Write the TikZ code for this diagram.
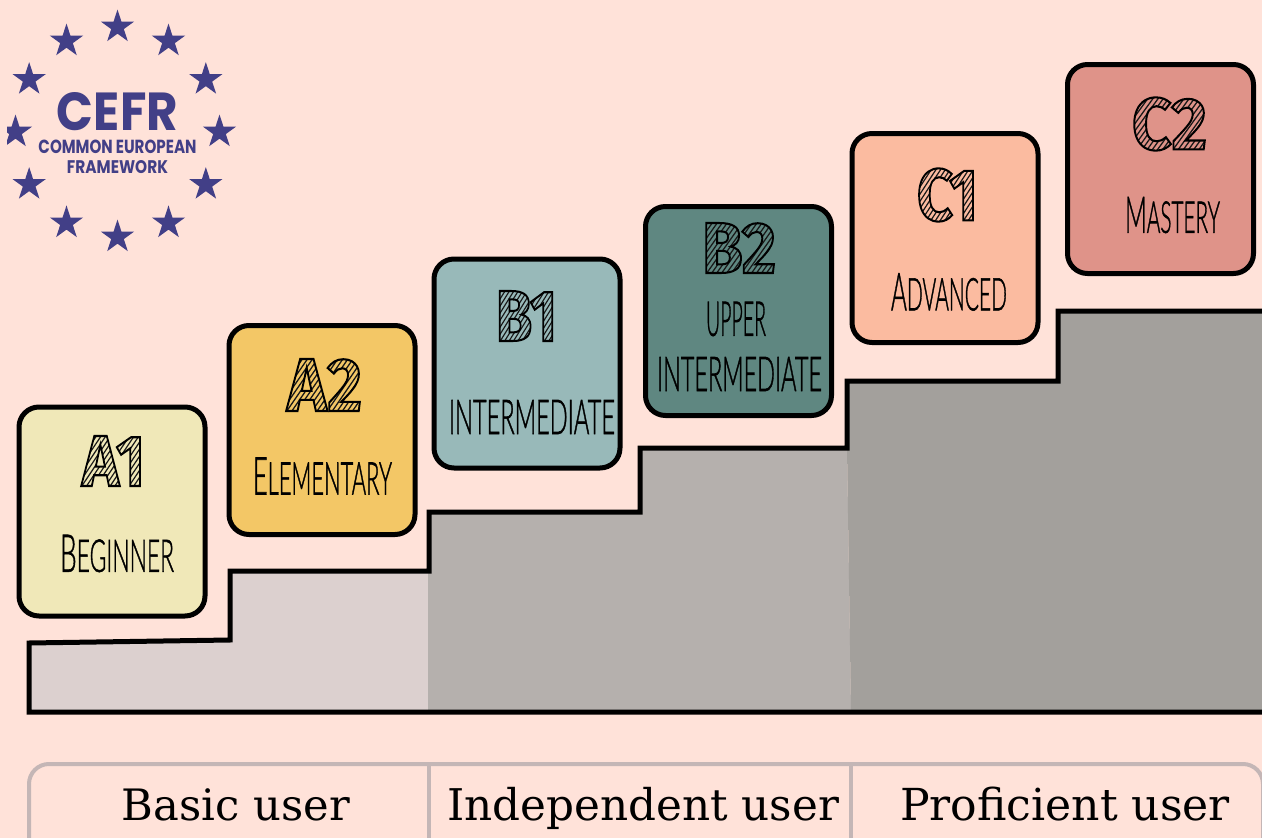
\documentclass[tikz,border=0pt]{standalone}
\usepackage{fontspec}
\usepackage{graphicx}
\setmainfont{Liberation Sans}
\newfontfamily\thinf{Lato}[UprightFont=* Light]
\newfontfamily\popf{Poppins}[BoldFont=* Bold]
\newfontfamily\slabf{DejaVu Serif}
\newfontfamily\handf{Fira Sans}[BoldFont=* Bold]
\usetikzlibrary{shapes.geometric}
\definecolor{bgc}{HTML}{FFE2D9}
\definecolor{starc}{HTML}{423F87}
\definecolor{stepa}{HTML}{DCD0CF}
\definecolor{stepb}{HTML}{B5B0AD}
\definecolor{stepc}{HTML}{A3A09C}
\definecolor{barc}{HTML}{C4B6B6}
\definecolor{cAa}{HTML}{F0E8B8}
\definecolor{cAb}{HTML}{F3C766}
\definecolor{cBa}{HTML}{98B9B9}
\definecolor{cBb}{HTML}{5F8781}
\definecolor{cCa}{HTML}{FBBBA0}
\definecolor{cCb}{HTML}{DF9389}
\newcommand{\sizedtxt}[3]{\resizebox{#1pt}{#2pt}{#3}}
\newcommand{\capl}[2]{\special{pdf:bcontent}\special{pdf:code 2 Tr 0.55 w 0 0 0 RG}\fontsize{44}{44}\thinf #1\fontsize{38}{38}\selectfont #2\special{pdf:econtent}}
% hatch strokes for the level letters, in the letter's own units
\gdef\hatchcode{}
\foreach \k in {-85,-80.5,...,150}{%
  \pgfmathsetmacro\kk{\k+50}%
  \xdef\hatchcode{\hatchcode\space\k\space -5 m \kk\space 60 l}%
}
\newsavebox{\lvlbox}
\newcommand{\lvl}[3]{\resizebox{#1pt}{#2pt}{\fontsize{60}{60}\handf\bfseries
  \sbox{\lvlbox}{#3}%
  \rlap{\special{pdf:bcontent}\special{pdf:code 7 Tr}\usebox{\lvlbox}\kern-\wd\lvlbox
    \special{pdf:bcontent}\special{pdf:code 0 Tr 1.1 w 0.1 0.1 0.1 RG \hatchcode\space S}\special{pdf:econtent}\special{pdf:econtent}}%
  \special{pdf:bcontent}\special{pdf:code 1 Tr 1.7 w 0 0 0 RG}\usebox{\lvlbox}\special{pdf:econtent}}}
\tikzset{
  levelbox/.style={draw=black,line width=5pt,rounded corners=20pt,minimum width=186pt,minimum height=209pt,inner sep=0pt},
  lab/.style={inner sep=0pt,text=black},
  letter/.style={inner sep=0pt},
  logostar/.style={star,star points=5,star point ratio=2.618,fill=starc,minimum size=35pt,inner sep=0pt},
  logotxt/.style={inner sep=0pt,text=starc},
  bartxt/.style={inner sep=0pt,text=black,anchor=base},
  barline/.style={draw=barc,line width=4pt},
  stair/.style={draw=black,line width=5pt,line join=miter}
}
\begin{document}
\begin{tikzpicture}[x=1pt,y=-1pt]
\useasboundingbox (0,0) rectangle (1262,838);
\fill[bgc] (0,0) rectangle (1262,838);
\begin{scope}
\clip (0,0) rectangle (1262,838);
% stairs
\fill[stepa] (29,643) -- (230,640) -- (230,571) -- (429,571) -- (429,712) -- (29,712) -- cycle;
\fill[stepb] (428,571) -- (429,512) -- (640,512) -- (640,448) -- (847,448) -- (851,712) -- (428,712) -- cycle;
\fill[stepc] (847,448) -- (847,381) -- (1058,381) -- (1058,311) -- (1270,311) -- (1270,712) -- (851,712) -- cycle;
\draw[stair] (1270,712) -- (29,712) -- (29,643) -- (230,640) -- (230,571) -- (429,571) -- (429,512) -- (640,512) -- (640,448) -- (847,448) -- (847,381) -- (1058,381) -- (1058,311) -- (1270,311);
% user bar
\draw[barline,rounded corners=20pt] (29,764) rectangle (1263,870);
\draw[barline] (429,764) -- (429,838);
\draw[barline] (851,764) -- (851,838);
\end{scope}
\node[bartxt] (basic) at (236,820) {\resizebox{228pt}{!}{\fontsize{40}{40}\slabf Basic user}};
\node[bartxt] (indep) at (643,820) {\resizebox{392pt}{!}{\fontsize{40}{40}\slabf Independent user}};
\node[bartxt] (prof) at (1065,820) {\resizebox{330pt}{!}{\fontsize{40}{40}\slabf Proficient user}};
% level boxes
\node[levelbox,fill=cAa] (boxA1) at (112,511.5) {};
\node[levelbox,fill=cAb] (boxA2) at (322,430) {};
\node[levelbox,fill=cBa] (boxB1) at (527,363.5) {};
\node[levelbox,fill=cBb] (boxB2) at (738.5,311) {};
\node[levelbox,fill=cCa] (boxC1) at (945,238) {};
\node[levelbox,fill=cCb] (boxC2) at (1160.5,169) {};
% letters
\node[letter] (lA1) at (113.5,461) {\lvl{63}{50}{A1}};
\node[letter] (lA2) at (324.5,385) {\lvl{75}{52}{A2}};
\node[letter] (lB1) at (526.5,316) {\lvl{61}{50}{B1}};
\node[letter] (lB2) at (739,248) {\lvl{74}{50}{B2}};
\node[letter] (lC1) at (947.5,195) {\lvl{61}{52}{C1}};
\node[letter] (lC2) at (1169.5,124) {\lvl{75}{52}{C2}};
% names
\node[lab] (nA1) at (117,553.5) {\sizedtxt{114}{37}{\capl{B}{EGINNER}}};
\node[lab] (nA2) at (322.5,476) {\sizedtxt{139}{37}{\capl{E}{LEMENTARY}}};
\node[lab] (nB1) at (532,417) {\sizedtxt{166}{34}{\capl{}{INTERMEDIATE}}};
\node[lab] (nB2a) at (736,319) {\sizedtxt{60}{34}{\capl{}{UPPER}}};
\node[lab] (nB2b) at (739.5,374) {\sizedtxt{165}{34}{\capl{}{INTERMEDIATE}}};
\node[lab] (nC1) at (949,292) {\sizedtxt{116}{37}{\capl{A}{DVANCED}}};
\node[lab] (nC2) at (1172.5,215) {\sizedtxt{95}{36}{\capl{M}{ASTERY}}};
% logo
\begin{scope}
\clip (7,0) rectangle (250,260);
\foreach \a [count=\i] in {0,30,...,330}{
  \node[logostar] (star\i) at ({117.5+102*cos(\a)},{132+105*sin(\a)}) {};
}
\end{scope}
\node[logotxt] (cefr) at (117.5,112) {\sizedtxt{121}{38}{\popf\bfseries CEFR}};
\node[logotxt] (common) at (117.5,146.5) {\sizedtxt{158}{13.5}{\popf\bfseries COMMON\hspace{0.2em}EUROPEAN}};
\node[logotxt] (frame) at (117.5,167) {\sizedtxt{101}{13}{\popf\bfseries FRAMEWORK}};
\end{tikzpicture}
\end{document}
